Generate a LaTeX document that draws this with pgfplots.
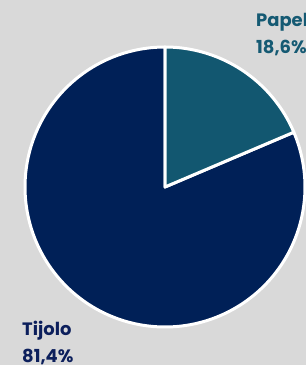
\documentclass[border=0pt]{standalone}
\usepackage{pgfplots}
\pgfplotsset{compat=1.18}
\usepackage{fontspec}
\setmainfont{Poppins}
\definecolor{bg}{HTML}{D9D9D9}
\definecolor{navy}{HTML}{002057}
\definecolor{tealc}{HTML}{125770}
\definecolor{navytxt}{HTML}{0C1F5C}
\definecolor{tealtxt}{HTML}{155A73}
\begin{document}
\begin{tikzpicture}
\useasboundingbox (0,0) rectangle (306bp,365bp);
\fill[bg] (0,0) rectangle (306bp,365bp);
\pgfmathsetmacro\papel{18.6}
\pgfmathsetmacro\tijolo{81.4}
\begin{axis}[x=1bp,y=1bp,xmin=0,xmax=306,ymin=0,ymax=365,
  hide axis, clip=false, at={(0,0)}, anchor=origin]
\addplot[fill=navy, draw=white, line width=3bp, line join=round, domain={90}:{90+3.6*\tijolo}, samples=200, variable=\t]
  ({165+140*cos(\t)},{178+140*sin(\t)}) -- (axis cs:165,178) -- cycle;
\addplot[fill=tealc, draw=white, line width=3bp, line join=round, domain={90-3.6*\papel}:{90}, samples=80, variable=\t]
  ({165+140*cos(\t)},{178+140*sin(\t)}) -- (axis cs:165,178) -- cycle;
\node[anchor=base west, inner sep=0, font=\bfseries\fontsize{18}{22}\selectfont, text=tealtxt] at (axis cs:256,339) {Papel};
\node[anchor=base west, inner sep=0, font=\bfseries\fontsize{18}{22}\selectfont, text=tealtxt] at (axis cs:256,312) {18,6\%};
\node[anchor=base west, inner sep=0, font=\bfseries\fontsize{18}{22}\selectfont, text=navytxt] at (axis cs:22,30) {Tijolo};
\node[anchor=base west, inner sep=0, font=\bfseries\fontsize{18}{22}\selectfont, text=navytxt] at (axis cs:22,3) {81,4\%};
\end{axis}
\end{tikzpicture}
\end{document}
